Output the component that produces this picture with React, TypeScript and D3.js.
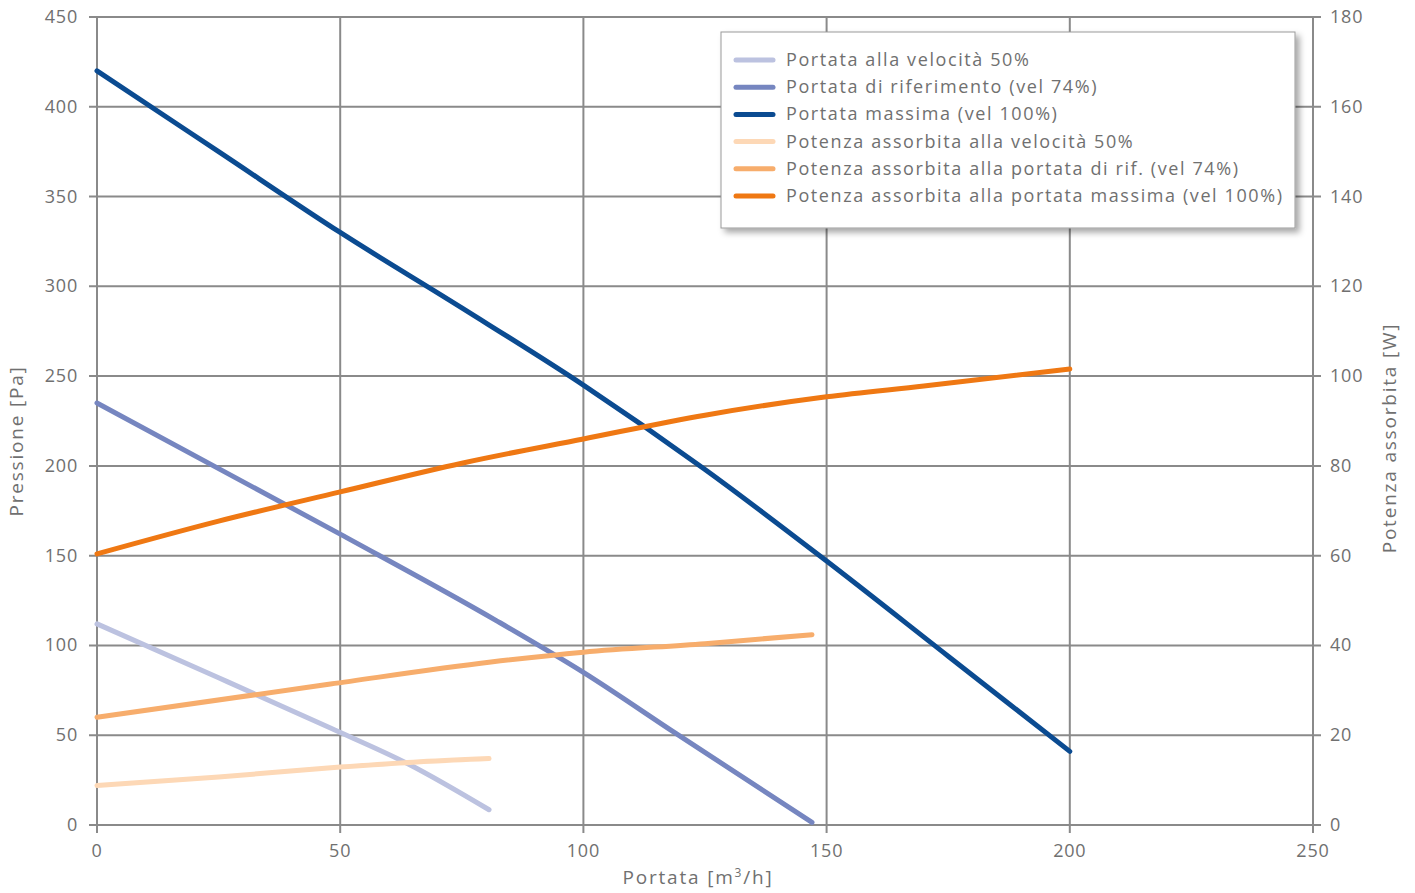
import React from "react";
import * as d3 from "d3";

const W = 1415;
const H = 893;
const M = { left: 97, right: 1313, top: 17, bottom: 825 };

const xTicks = [0, 50, 100, 150, 200, 250];
const yLeftTicks = [0, 50, 100, 150, 200, 250, 300, 350, 400, 450];
const yRightTicks = [0, 20, 40, 60, 80, 100, 120, 140, 160, 180];

// Pressure curves [portata, pressione]
const press50: [number, number][] = [[0, 112], [25, 82], [48, 54], [64, 34], [80.6, 8.5]];
const press74: [number, number][] = [[0, 235], [50, 162], [82, 114], [100, 85], [119, 51], [147, 1.5]];
const press100: [number, number][] = [[0, 420], [25, 375], [50, 330], [75, 288], [100, 245], [125, 198], [150, 147], [175, 94], [200, 41]];
// Power curves [portata, W]
const pow50: [number, number][] = [[0, 8.8], [25, 10.7], [50, 12.9], [65, 14], [80.6, 14.8]];
const pow74: [number, number][] = [[0, 24], [48, 31.4], [81, 36.3], [100, 38.5], [125, 40.4], [147, 42.4]];
const pow100: [number, number][] = [[0, 60.4], [25, 67.7], [50, 74.2], [75, 80.6], [100, 86], [125, 91.3], [150, 95.4], [170, 97.8], [200, 101.6]];

const series = [
  { name: "Portata alla velocità 50%", data: press50, axis: "left", color: "#bcc2e0" },
  { name: "Portata di riferimento (vel 74%)", data: press74, axis: "left", color: "#7686c0" },
  { name: "Portata massima (vel 100%)", data: press100, axis: "left", color: "#0b4b91" },
  { name: "Potenza assorbita alla velocità 50%", data: pow50, axis: "right", color: "#fdd8b6" },
  { name: "Potenza assorbita alla portata di rif. (vel 74%)", data: pow74, axis: "right", color: "#f7ad6c" },
  { name: "Potenza assorbita alla portata massima (vel 100%)", data: pow100, axis: "right", color: "#ef7813" },
];

const FONT = "'Open Sans', sans-serif";
const TXT = "#707070";
const GRID = "#8a8a8a";

export default function App() {
  const x = d3.scaleLinear().domain([0, 250]).range([M.left, M.right]);
  const yL = d3.scaleLinear().domain([0, 450]).range([M.bottom, M.top]);
  const yR = d3.scaleLinear().domain([0, 180]).range([M.bottom, M.top]);

  const mk = (ys: d3.ScaleLinear<number, number>) =>
    d3.line<[number, number]>().x(d => x(d[0])).y(d => ys(d[1])).curve(d3.curveMonotoneX);

  const lx = 721, ly = 32, lw = 574, lh = 196;

  return (
    <svg width={W} height={H} style={{ position: "absolute", left: 0, top: 0, fontFamily: FONT }}>
      <defs>
        <filter id="sh" x="-10%" y="-10%" width="130%" height="130%">
          <feDropShadow dx="4" dy="4" stdDeviation="3" floodColor="#000" floodOpacity="0.35" />
        </filter>
      </defs>
      <rect width={W} height={H} fill="#fff" />
      {/* grid */}
      {xTicks.map(t => (
        <line key={"gx" + t} x1={x(t)} x2={x(t)} y1={M.top} y2={M.bottom + 8} stroke={GRID} strokeWidth={2} />
      ))}
      {yLeftTicks.map(t => (
        <line key={"gy" + t} x1={M.left - 8} x2={M.right + 8} y1={yL(t)} y2={yL(t)} stroke={GRID} strokeWidth={2} />
      ))}
      {/* tick labels */}
      {xTicks.map(t => (
        <text key={"tx" + t} x={x(t)} y={857} textAnchor="middle" fontSize={18} letterSpacing={0.8} fill={TXT}>{t}</text>
      ))}
      {yLeftTicks.map(t => (
        <text key={"tl" + t} x={78} y={yL(t) + 6} textAnchor="end" fontSize={18} letterSpacing={0.8} fill={TXT}>{t}</text>
      ))}
      {yRightTicks.map(t => (
        <text key={"tr" + t} x={1330} y={yR(t) + 6} textAnchor="start" fontSize={18} letterSpacing={0.8} fill={TXT}>{t}</text>
      ))}
      {/* axis titles */}
      <text x={698} y={884} textAnchor="middle" fontSize={19} letterSpacing={1.8} fill={TXT}>
        Portata [m<tspan dy={-7} fontSize={12}>3</tspan><tspan dy={7}>/h]</tspan>
      </text>
      <text transform={`translate(23,${441}) rotate(-90)`} textAnchor="middle" fontSize={19} letterSpacing={1.8} fill={TXT}>Pressione [Pa]</text>
      <text transform={`translate(1396,${438}) rotate(-90)`} textAnchor="middle" fontSize={19} letterSpacing={1.8} fill={TXT}>Potenza assorbita [W]</text>
      {/* curves */}
      {series.map(s => (
        <path key={s.name} d={mk(s.axis === "left" ? yL : yR)(s.data) || ""} fill="none" stroke={s.color}
          strokeWidth={5} strokeLinecap="round" strokeLinejoin="round" />
      ))}
      {/* legend */}
      <g>
        <rect x={lx} y={ly} width={lw} height={lh} fill="#fff" stroke="#9a9a9a" strokeWidth={1} filter="url(#sh)" />
        {series.map((s, i) => {
          const cy = 60 + i * 27.2;
          return (
            <g key={"lg" + i}>
              <line x1={736} x2={773} y1={cy} y2={cy} stroke={s.color} strokeWidth={5} strokeLinecap="round" />
              <text x={786} y={cy + 6} fontSize={18} letterSpacing={1.6} fill={TXT}>{s.name}</text>
            </g>
          );
        })}
      </g>
    </svg>
  );
}
